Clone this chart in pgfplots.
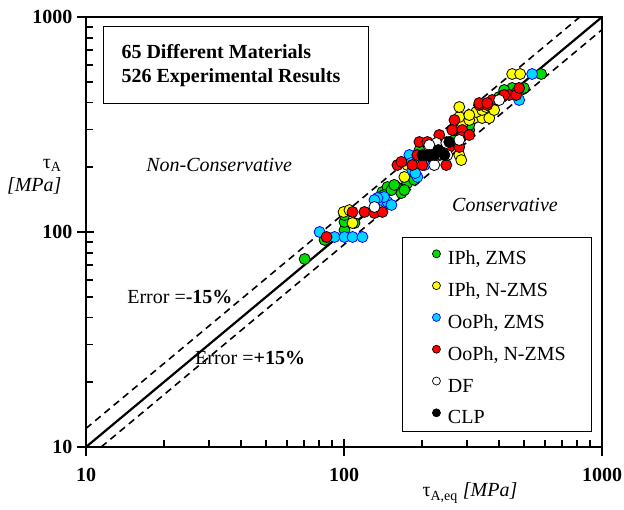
\documentclass[border=0pt]{standalone}
\usepackage{fontspec}
\setmainfont{Liberation Serif}
\usepackage{pgfplots}
\pgfplotsset{compat=1.18}
\definecolor{cgreen}{RGB}{0,220,0}
\definecolor{cyellow}{RGB}{255,255,0}
\definecolor{ccyan}{RGB}{0,215,255}
\definecolor{cred}{RGB}{255,0,0}
\newcommand{\fs}{\fontsize{20}{23}\selectfont}
\begin{document}
\begin{tikzpicture}
\path[use as bounding box] (-86pt,-62pt) rectangle (538pt,447pt);
\begin{axis}[
  scale only axis, width=516pt, height=430pt,
  xmode=log, ymode=log, xmin=10, xmax=1000, ymin=10, ymax=1000,
  axis line style={line width=2.5pt},
  xtick={10,100,1000}, xticklabels={10,100,1000},
  ytick={10,100,1000}, yticklabels={10,100,1000},
  minor xtick={20,30,40,50,60,70,80,90,200,300,400,500,600,700,800,900},
  minor ytick={20,30,40,50,60,70,80,90,200,300,400,500,600,700,800,900},
  xtick pos=bottom, ytick pos=left,
  tick align=inside, major tick length=8pt, minor tick length=7pt,
  every tick/.style={black, line width=1.8pt},
  extra x ticks={10,100,1000}, extra x tick labels={},
  extra y ticks={10,100,1000}, extra y tick labels={},
  extra tick style={tick align=outside, major tick length=9pt},
  ticklabel style={font=\fs\bfseries},
  xticklabel style={yshift=-18pt},
  yticklabel style={xshift=-10pt},
  clip=true,
  legend style={draw=none, fill=none, at={(rel axis cs:0.671,0.459)}, anchor=north west,
    inner sep=0pt, font=\fs, row sep=12.8pt, column sep=7.5pt,
    nodes={inner sep=0pt, text height=13pt, text depth=4pt}},
  legend cell align=left,
  legend image code/.code={\draw[#1, mark size=4pt, line width=0.7pt] plot coordinates {(0pt,6.5pt)};},
]
% reference lines
\addplot[black, line width=2.2pt, forget plot] coordinates {(10,10) (1000,1000)};
\addplot[black, line width=1.6pt, dash pattern=on 7pt off 5pt, forget plot] coordinates {(10,12.2) (820,1000)};
\addplot[black, line width=1.6pt, dash pattern=on 7pt off 5pt, forget plot] coordinates {(11.45,10) (1000,873)};

% IPh, ZMS
\addplot[only marks, mark=*, draw=black, fill=cgreen, mark size=5.5pt, line width=0.8pt] coordinates {
(70.4,74.9) (84.1,91.8) (100.4,102.0) (100.4,111.3) (109.8,110.1) (100.4,120)
(140.9,153.5) (147.4,161.9) (159.7,161.9) (166.9,151.8) (143,148.6) (152.7,156.7) (176.1,169)
(137,145) (156.6,165.6) (171.4,156.7) (187,175)
(196,240) (250,262) (330,360) (400,420) (234,240.6) (268,267.9)
(448.6,467.6) (486.1,457.7) (464.9,443.2) (580.8,543) (417.8,457.7) (399.5,424.6) (498,467.6)
(365.6,369.3) (305.9,298.1) (287.4,307.6) (305.9,314.5) (334.4,350)
};
\addlegendentry{IPh, ZMS}
% IPh, N-ZMS
\addplot[only marks, mark=*, draw=black, fill=cyellow, mark size=5.5pt, line width=0.8pt] coordinates {
(99.6,123.9) (107.9,110.1) (105,126.5) (171.4,180.3) (176.1,204.9) (187,194.2) (279.8,228.1) (284.8,216)
(287.4,314.5) (279.8,342.7) (319.8,338.9) (343.4,338.9) (365.6,338.9)
(325.5,361.5) (343.4,369.3) (279.8,381.4) (305.9,331.8) (355.9,381.4)
(305.9,350) (382,369.3) (268,298.1)
(448.6,543) (481.7,543)
};
\addlegendentry{IPh, N-ZMS}
% OoPh, ZMS
\addplot[only marks, mark=*, draw=blue, fill=ccyan, mark size=5.5pt, line width=0.8pt] coordinates {
(80.4,100) (91.9,94.8) (100.4,94.8) (107.9,94.8) (117.9,94.8)
(139.7,140.9) (147.4,137.9) (143,145.5) (134.8,143.9) (131.2,140.9) (152.7,133.6)
(184.1,194.2) (192.5,180.3) (179.2,228.1) (182.4,209.5) (189,188) (196,216.3) (205,204.9)
(477.5,411.1) (536.1,543)
};
\addlegendentry{OoPh, ZMS}
% OoPh, N-ZMS
\addplot[only marks, mark=*, draw=black, fill=cred, mark size=5.5pt, line width=0.8pt] coordinates {
(85.6,94.8) (107.9,123.9) (120.0,123.9) (131.2,122.6) (140.9,123.9)
(161.1,204.9) (166.9,212) (184.1,204.9) (201.3,204.9) (249.2,204.9)
(192.5,228.1) (210.4,228.1) (235,228.1) (249.2,228.1)
(196.0,262.2) (210.4,262.2) (255.9,248.5) (279.8,248.5) (234,282.6)
(262.8,298.1) (287.4,298.1) (284.8,276.7) (305.9,282.6) (268,331.8)
(334.4,389.7) (359.1,389.7) (375.5,411.1) (410.4,424.6) (436.8,433.8) (464.9,433.8)
(417.8,433.8) (477.5,467.6) (334.4,398) (359.1,398)
};
\addlegendentry{OoPh, N-ZMS}
% DF
\addplot[only marks, mark=*, draw=black, fill=white, mark size=5.5pt, line width=0.8pt] coordinates {
(131.2,130.7) (223.9,204.9) (228.0,259.4) (249.2,259.4) (279.8,267.9)
(214.2,253.9) (228.0,228.1) (251.4,228.1) (399.5,411.1)
};
\addlegendentry{DF}
% CLP
\addplot[only marks, mark=*, draw=black, fill=black, mark size=5.5pt, line width=0.8pt] coordinates {
(201.3,228.1) (214.2,228.1) (224,228.1) (245,228.1) (255.9,262.2) (232,240.6)
};
\addlegendentry{CLP}

% legend frame
\draw[line width=0.8pt] (rel axis cs:0.614,0.488) rectangle (rel axis cs:0.979,0.037);
% info box
\draw[line width=0.8pt] (rel axis cs:0.033,0.979) rectangle (rel axis cs:0.547,0.800);
\node[anchor=west, font=\fs\bfseries] at (rel axis cs:0.062,0.919) {65 Different Materials};
\node[anchor=west, font=\fs\bfseries] at (rel axis cs:0.062,0.858) {526 Experimental Results};
% region labels
\node[font=\fs\itshape] at (rel axis cs:0.258,0.656) {Non-Conservative};
\node[font=\fs\itshape] at (rel axis cs:0.812,0.563) {Conservative};
\node[font=\fs] at (rel axis cs:0.182,0.349) {Error =\textbf{-15\%}};
\node[font=\fs] at (rel axis cs:0.318,0.207) {Error =\textbf{+15\%}};
\end{axis}
% axis labels
\node[font=\fs, anchor=center] at (470-86pt, 447-493pt) {τ\textsubscript{A,eq} \textit{[MPa]}};
\node[font=\fs, align=right, anchor=east] at (65-86pt, 447-177pt) {τ\textsubscript{A}\\\textit{[MPa]}};
\end{tikzpicture}
\end{document}
